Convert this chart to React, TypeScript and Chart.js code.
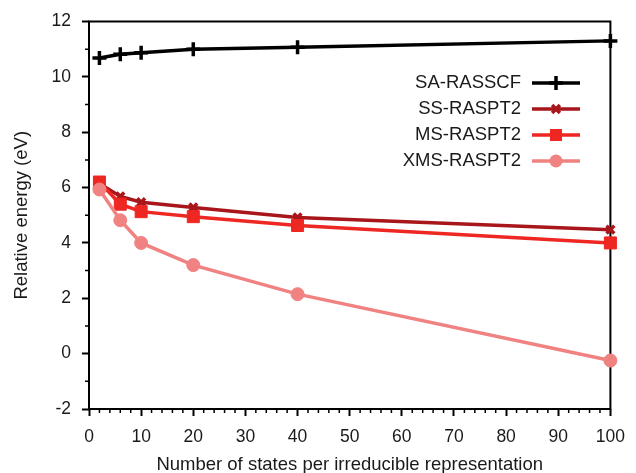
import React, { useEffect, useRef } from "react";
import { Chart, registerables } from "chart.js";

Chart.register(...registerables);

const xValues = [2, 6, 10, 20, 40, 100];
const saRasscf = [10.68, 10.82, 10.87, 11.0, 11.07, 11.3];
const ssRaspt2 = [6.15, 5.68, 5.47, 5.28, 4.92, 4.48];
const msRaspt2 = [6.2, 5.4, 5.13, 4.95, 4.63, 4.0];
const xmsRaspt2 = [5.93, 4.82, 4.0, 3.2, 2.15, -0.25];
const seriesNames = ["SA-RASSCF", "SS-RASPT2", "MS-RASPT2", "XMS-RASPT2"];
const seriesColors = ["#000000", "#a8161b", "#ee2722", "#f08282"];
const xTitle = "Number of states per irreducible representation";
const yTitle = "Relative energy (eV)";

const FONT = "'Liberation Sans', Arial, Helvetica, sans-serif";

export default function App() {
  const ref = useRef<HTMLCanvasElement | null>(null);
  useEffect(() => {
    if (!ref.current) return;
    const series = [saRasscf, ssRaspt2, msRaspt2, xmsRaspt2];
    const styles: any[] = ["cross", "crossRot", "rect", "circle"];
    const radii = [7, 5.5, 8.5, 6.5];
    const datasets = series.map((s, i) => ({
      label: seriesNames[i],
      data: s.map((y, j) => ({ x: xValues[j], y })),
      borderColor: seriesColors[i],
      backgroundColor: seriesColors[i],
      pointBorderColor: seriesColors[i],
      pointBackgroundColor: seriesColors[i],
      pointStyle: styles[i],
      pointRadius: radii[i],
      pointBorderWidth: i === 0 || i === 1 ? 3.5 : 1,
      borderWidth: 3.5,
      clip: false as any,
      order: i === 0 ? 0 : 4 - i,
    }));

    const framePlugin = {
      id: "frame",
      beforeDatasetsDraw(chart: any) {
        const { ctx, chartArea: a, scales } = chart;
        ctx.save();
        ctx.strokeStyle = "#000";
        ctx.lineWidth = 2;
        ctx.strokeRect(a.left, a.top, a.right - a.left, a.bottom - a.top);
        ctx.lineWidth = 1.5;
        ctx.beginPath();
        for (let v = 0; v <= 100; v += 2) {
          if (v % 10 === 0) continue;
          const px = scales.x.getPixelForValue(v);
          ctx.moveTo(px, a.bottom);
          ctx.lineTo(px, a.bottom + 4);
        }
        for (let v = -1; v <= 12; v += 2) {
          const py = scales.y.getPixelForValue(v);
          ctx.moveTo(a.left, py);
          ctx.lineTo(a.left - 4, py);
        }
        ctx.stroke();
        ctx.restore();
      },
      afterDraw(chart: any) {
        const { ctx } = chart;
        ctx.save();
        ctx.font = `18.5px ${FONT}`;
        ctx.textAlign = "right";
        ctx.textBaseline = "middle";
        const rowsY = [83, 109, 135, 161];
        const textRight = 521;
        const lx0 = 532;
        const lx1 = 580;
        chart.data.datasets.forEach((ds: any, i: number) => {
          const y = rowsY[i];
          ctx.fillStyle = "#1a1a1a";
          ctx.fillText(ds.label, textRight, y);
          ctx.strokeStyle = ds.borderColor;
          ctx.lineWidth = 3.5;
          ctx.beginPath();
          ctx.moveTo(lx0, y);
          ctx.lineTo(lx1, y);
          ctx.stroke();
          ctx.fillStyle = ds.pointBackgroundColor;
          ctx.strokeStyle = ds.pointBorderColor;
          ctx.lineWidth = ds.pointBorderWidth;
          ctx.beginPath();
          const cx = (lx0 + lx1) / 2;
          const r = ds.pointRadius;
          if (ds.pointStyle === "circle") {
            ctx.arc(cx, y, r, 0, Math.PI * 2);
            ctx.fill();
          } else if (ds.pointStyle === "rect") {
            const h = r / Math.SQRT2;
            ctx.fillRect(cx - h, y - h, 2 * h, 2 * h);
          } else if (ds.pointStyle === "cross") {
            ctx.moveTo(cx, y - r);
            ctx.lineTo(cx, y + r);
            ctx.moveTo(cx - r, y);
            ctx.lineTo(cx + r, y);
            ctx.stroke();
          } else {
            const d = r * Math.SQRT1_2;
            ctx.moveTo(cx - d, y - d);
            ctx.lineTo(cx + d, y + d);
            ctx.moveTo(cx + d, y - d);
            ctx.lineTo(cx - d, y + d);
            ctx.stroke();
          }
        });
        ctx.restore();
      },
    };

    const chart = new Chart(ref.current, {
      type: "line",
      data: { datasets: datasets as any },
      options: {
        animation: false,
        responsive: false,
        maintainAspectRatio: false,
        layout: { padding: { left: 0, right: 18, top: 15, bottom: 0 } },
        plugins: { legend: { display: false }, tooltip: { enabled: false } },
        scales: {
          x: {
            type: "linear",
            min: 0,
            max: 100,
            ticks: { stepSize: 10, color: "#1a1a1a", font: { size: 17.5, family: FONT }, padding: 11, maxRotation: 0 },
            grid: { drawOnChartArea: false, tickLength: 7, tickWidth: 2, tickColor: "#000" },
            border: { display: false },
            title: { display: true, text: xTitle, color: "#1a1a1a", font: { size: 18.5, family: FONT }, padding: { top: 0, bottom: -3 } },
            afterFit(scale: any) {
              scale.height = 64;
            },
          },
          y: {
            min: -2,
            max: 12,
            ticks: { stepSize: 2, color: "#1a1a1a", font: { size: 17.5, family: FONT }, padding: 11 },
            grid: { drawOnChartArea: false, tickLength: 7, tickWidth: 2, tickColor: "#000" },
            border: { display: false },
            title: { display: true, text: yTitle, color: "#1a1a1a", font: { size: 18.5, family: FONT }, padding: { top: 11, bottom: 0 } },
            afterFit(scale: any) {
              scale.width = 89;
            },
          },
        },
      },
      plugins: [framePlugin],
    });
    return () => chart.destroy();
  }, []);
  return (
    <div style={{ position: "fixed", left: 0, top: 0, width: 636, height: 473, background: "#fff" }}>
      <canvas ref={ref} width={636} height={473} style={{ width: 636, height: 473 }} />
    </div>
  );
}
